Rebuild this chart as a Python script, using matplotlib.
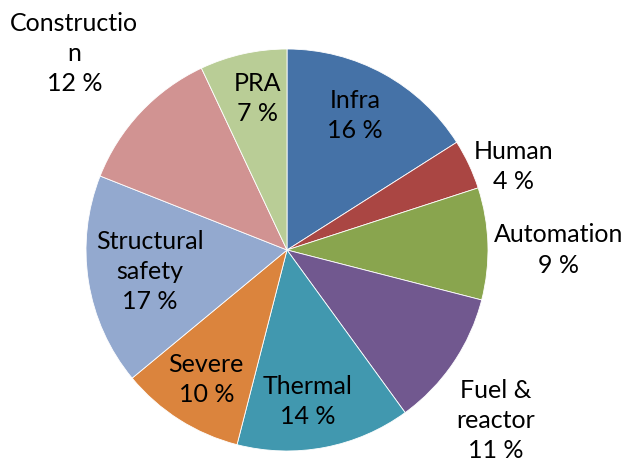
import matplotlib
matplotlib.use("Agg")
import matplotlib.pyplot as plt
import numpy as np

labels = ["Infra", "Human", "Automation", "Fuel &\nreactor", "Thermal",
          "Severe", "Structural\nsafety", "Constructio\nn", "PRA"]
values = [16, 4, 9, 11, 14, 10, 17, 12, 7]
colors = ["#4572A7", "#AA4643", "#89A54E", "#71588F", "#4198AF",
          "#DB843D", "#93A9CF", "#D19392", "#B9CD96"]

# label placement (layout): radial distance and angular tweak (deg)
label_r = [0.75, 1.20, 1.35, 1.34, 0.76, 0.76, 0.69, 1.44, 0.77]
label_dang = [2.0, -5.0, -1.8, -5.0, -3.0, 0.5, 0.0, 0.5, -1.5]

plt.rcParams['font.family'] = ['Lato', 'DejaVu Sans']

fig = plt.figure(figsize=(6.28, 4.62), dpi=100)
ax = fig.add_axes([0, 0, 1, 1])
cx, cy, R = 287, 250, 201

wedges, _ = ax.pie(values, colors=colors, startangle=90, counterclock=False,
                   radius=1.0, wedgeprops=dict(edgecolor='white', linewidth=0.6))

ax.set_xlim(-cx / R, (628 - cx) / R)
ax.set_ylim((cy - 462) / R, cy / R)
ax.set_aspect('equal', adjustable='box')
ax.axis('off')

total = sum(values)
cum = 0
for lab, v, r, da in zip(labels, values, label_r, label_dang):
    mid = 90 - 360 * (cum + v / 2) / total + da
    cum += v
    t = np.deg2rad(mid)
    ax.text(r * np.cos(t), r * np.sin(t), f"{lab}\n{v} %", ha='center', va='center',
            fontsize=18, color='black', linespacing=1.37)

fig.savefig("out.png", dpi=100)
